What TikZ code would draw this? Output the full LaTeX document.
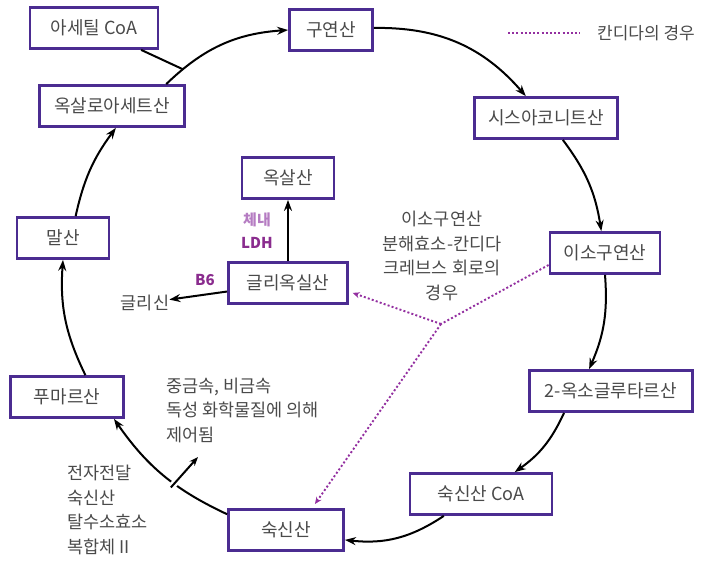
\documentclass[tikz,border=0pt]{standalone}
\usepackage{fontspec}
\setmainfont{Noto Sans CJK KR}
\usetikzlibrary{positioning, arrows.meta}
\definecolor{boxline}{HTML}{4B2C91}
\definecolor{candid}{HTML}{932FA0}
\definecolor{ldh}{HTML}{8A2C8E}
\definecolor{ldhlight}{HTML}{B57CC2}
\definecolor{txt}{HTML}{4A4A4A}

\begin{document}
\begin{tikzpicture}[x=1pt,y=-1pt,
  acid/.style={draw=boxline,line width=2.8pt,fill=white,text=txt,inner sep=0pt,minimum height=41pt,font=\fontsize{18}{18}\selectfont},
  anno/.style={text=txt,inner sep=0pt,font=\fontsize{17.5}{24.5}\selectfont},
  enz/.style={inner sep=0pt,font=\bfseries\fontsize{15}{15}\selectfont},
  cyc/.style={line width=2pt,-{Stealth[length=11pt,width=8pt]}},
  candida/.style={candid,line width=1.9pt,dash pattern=on 2pt off 2.2pt,-{Stealth[length=7pt,width=6pt]}}]
\useasboundingbox (0,0) rectangle (710,560);

\foreach \name/\x/\y/\w/\t in {
  acetyl/94/28/128/아세틸 CoA,
  citric/331/30/83/구연산,
  cisacon/546/118/143/시스아코니트산,
  isocitric/605/253/110/이소구연산,
  oxoglut/611/391/163/2-옥소글루타르산,
  succoa/481/494/142/숙신산 CoA,
  succinic/286/530/115/숙신산,
  fumaric/67/397/113/푸마르산,
  malic/63/238/92/말산,
  oxaloac/112/106/145/옥살로아세트산,
  oxalic/288/178/92/옥살산,
  glyoxylic/288/283/119/글리옥실산
}
\node[acid,minimum width=\w pt](\name) at (\x,\y) {\t};

\node[anno](glycine) at (145,303) {글리신};
\node[enz,text=ldh](bsix) at (205,280) {B6};
\node[enz,text=ldhlight](tenae) at (257,220) {체내};
\node[enz,text=ldh](ldh) at (257,243) {LDH};
\node[anno,align=center](lyase) at (442,256) {이소구연산\\분해효소-칸디다\\크레브스 회로의\\경우};
\node[anno,align=left,anchor=west](metals) at (166,410) {중금속, 비금속\\독성 화학물질에 의해\\제어됨};
\node[anno,align=left,anchor=west](etctext) at (67,510) {전자전달\\숙신산\\탈수소효소\\복합체 II};
\node[anno,anchor=west,font=\fontsize{17}{17}\selectfont](legend) at (597,33) {칸디다의 경우};

\draw[cyc] (citric) to[bend left=25] (cisacon);
\draw[cyc] (cisacon) to[bend left=14] (isocitric);
\draw[cyc] (isocitric.-90) to[bend left=14] (oxoglut.135);
\draw[cyc] (oxoglut.-155) to[bend left=15] (succoa.33);
\draw[cyc] (succoa) to[bend left=20] (succinic);
\draw[cyc] (succinic.165) to[bend left=15] coordinate[pos=.4](etc) (fumaric.-25);
\draw[cyc] (fumaric.50) to[bend left=15] (malic.-90);
\draw[cyc] (malic.60) to[bend left=12] (oxaloac.-80);
\draw[cyc] (oxaloac.22) to[bend left=20] coordinate[pos=.15](join) (citric.west);
\draw[line width=2pt] (acetyl) -- (join);

\draw[cyc] (glyoxylic) -- (oxalic);
\draw[cyc] (glyoxylic) -- (glycine);

\coordinate (etctip) at (198,457);
\draw[white,line width=7pt,shorten >=24pt,shorten <=-4pt] (etc) -- (etctip);
\draw[line width=2pt,shorten <=-5pt,-{Stealth[length=9pt,width=7pt]}] (etc) -- (etctip);

\coordinate (fork) at (441,324);
\draw[candida,-] (isocitric.-168) -- (fork);
\draw[candida,shorten >=4pt] (fork) -- (glyoxylic.-8);
\draw[candida,shorten >=5pt] (fork) -- (succinic.40);

\coordinate (lega) at (508,33);
\coordinate (legb) at (580,33);
\draw[candida,-] (lega) -- (legb);
\end{tikzpicture}
\end{document}
